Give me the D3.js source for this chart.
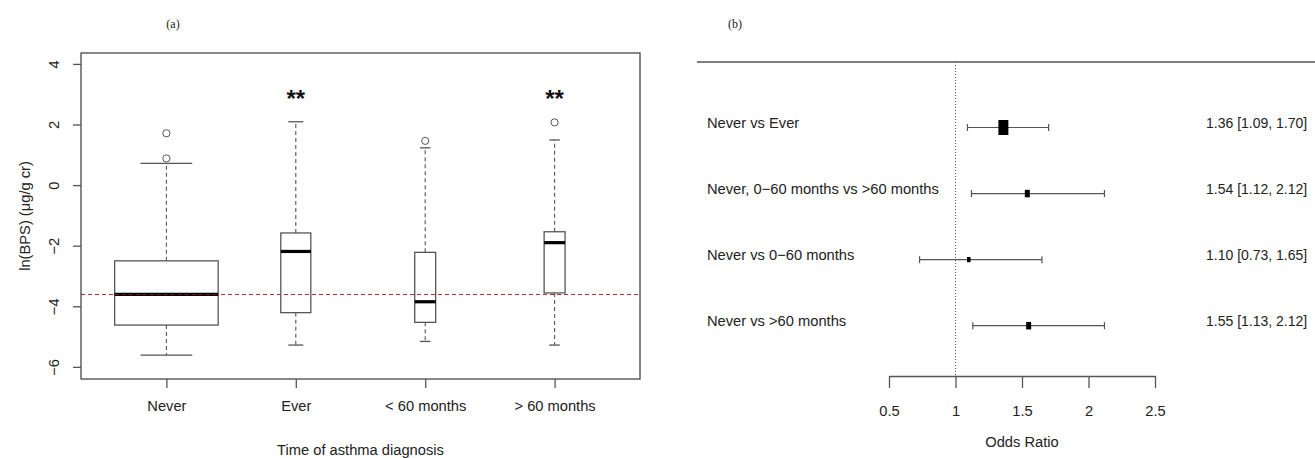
<!DOCTYPE html>
<html>
<head>
<meta charset="utf-8">
<script src="https://cdn.jsdelivr.net/npm/d3@7"></script>
<style>
  body { margin: 0; background: #fff; }
  svg text { font-family: "Liberation Sans", Arial, Helvetica, sans-serif; fill: #222; }
</style>
</head>
<body>
<div id="plot"></div>
<script>
// ---- panel (a) data: boxplot stats, ln(BPS)
const groups = ["Never", "Ever", "< 60 months", "> 60 months"];
const lowWhisk = [-5.61, -5.28, -5.16, -5.28];
const q1 = [-4.62, -4.21, -4.53, -3.56];
const median = [-3.61, -2.19, -3.85, -1.90];
const q3 = [-2.50, -1.58, -2.22, -1.54];
const highWhisk = [0.72, 2.09, 1.23, 1.49];
const outliers = [[1.71, 0.88], [], [1.46], [2.07]];
const relWidth = [0.80, 0.232, 0.162, 0.162];   // varwidth boxes
const signif = ["", "**", "", "**"];
const refLine = -3.61;
const yTicks = [-6, -4, -2, 0, 2, 4];

// ---- panel (b) data: odds ratios
const comparisons = ["Never vs Ever", "Never, 0\u221260 months vs >60 months",
                     "Never vs 0\u221260 months", "Never vs >60 months"];
const or = [1.36, 1.54, 1.10, 1.55];
const ciLow = [1.09, 1.12, 0.73, 1.13];
const ciHigh = [1.70, 2.12, 1.65, 2.12];
const weight = [1.0, 0.5, 0.35, 0.5];
const orTicks = [0.5, 1, 1.5, 2, 2.5];

const width = 1315, height = 458;
const fs = "14.7px";
const grey = "#555";

const svg = d3.select("#plot").append("svg")
  .attr("width", width).attr("height", height);

// ================= panel (a) =================
const x = d3.scaleLinear().domain([0.34, 4.66]).range([81, 640]);
const y = d3.scaleLinear().domain([-6.4, 4.36]).range([379, 53]);
const unit = x(2) - x(1);

const a = svg.append("g").attr("id", "panelA");

a.append("text").attr("x", 173).attr("y", 28)
  .attr("text-anchor", "middle")
  .style("font-family", "'Liberation Serif', 'Times New Roman', serif")
  .style("font-size", "12px").text("(a)");

// reference line (under boxes)
a.append("line")
  .attr("x1", x.range()[0]).attr("x2", x.range()[1])
  .attr("y1", y(refLine)).attr("y2", y(refLine))
  .attr("stroke", "#b5302a").attr("stroke-width", 1.1)
  .attr("stroke-dasharray", "4,3");

const bx = a.selectAll("g.box").data(groups).join("g").attr("class", "box");

bx.each(function(d, i) {
  const g = d3.select(this);
  const cx = x(i + 1);
  const w = relWidth[i] * unit;
  // whiskers
  [[q3[i], highWhisk[i]], [q1[i], lowWhisk[i]]].forEach(function(p) {
    g.append("line").attr("x1", cx).attr("x2", cx)
      .attr("y1", y(p[0])).attr("y2", y(p[1]))
      .attr("stroke", grey).attr("stroke-width", 1.1)
      .attr("stroke-dasharray", "4,3");
    g.append("line").attr("x1", cx - w / 4).attr("x2", cx + w / 4)
      .attr("y1", y(p[1])).attr("y2", y(p[1]))
      .attr("stroke", grey).attr("stroke-width", 1.3);
  });
  g.append("rect")
    .attr("x", cx - w / 2).attr("width", w)
    .attr("y", y(q3[i])).attr("height", y(q1[i]) - y(q3[i]))
    .attr("fill", "none").attr("stroke", grey).attr("stroke-width", 1.3);
  g.append("line").attr("x1", cx - w / 2).attr("x2", cx + w / 2)
    .attr("y1", y(median[i])).attr("y2", y(median[i]))
    .attr("stroke", "#000").attr("stroke-width", 3.2);
  g.selectAll("circle").data(outliers[i]).join("circle")
    .attr("cx", cx).attr("cy", v => y(v)).attr("r", 3.6)
    .attr("fill", "none").attr("stroke", grey).attr("stroke-width", 1);
  if (signif[i]) {
    g.append("text").attr("x", cx).attr("y", y(2.95) + 11)
      .attr("text-anchor", "middle")
      .style("font-size", "24px").style("font-weight", "bold")
      .style("fill", "#111").text(signif[i]);
  }
});

// redraw the reference line over the Never box as in the original
a.append("line")
  .attr("x1", x(1) - relWidth[0] * unit / 2).attr("x2", x(1) + relWidth[0] * unit / 2)
  .attr("y1", y(refLine)).attr("y2", y(refLine))
  .attr("stroke", "#7a1a16").attr("stroke-width", 1.1)
  .attr("stroke-dasharray", "4,3");

// frame
a.append("rect")
  .attr("x", x.range()[0]).attr("y", y.range()[1])
  .attr("width", x.range()[1] - x.range()[0])
  .attr("height", y.range()[0] - y.range()[1])
  .attr("fill", "none").attr("stroke", grey).attr("stroke-width", 1.4);

// y axis
const yAx = a.append("g").attr("transform", `translate(${x.range()[0]},0)`)
  .call(d3.axisLeft(y).tickValues(yTicks).tickSize(8).tickSizeOuter(0)
    .tickFormat(d => d < 0 ? "\u2212" + Math.abs(d) : d));
yAx.select(".domain").remove();
yAx.selectAll("line").attr("stroke", grey).attr("stroke-width", 1.3);
yAx.selectAll("text")
  .attr("x", 0).attr("dy", null)
  .attr("transform", "translate(-27,0) rotate(-90)")
  .attr("text-anchor", "middle").attr("dominant-baseline", "central")
  .style("font-size", fs).style("fill", "#222");

// x axis
const xAx = a.append("g").attr("transform", `translate(0,${y.range()[0]})`)
  .call(d3.axisBottom(x).tickValues([1, 2, 3, 4]).tickSize(9).tickSizeOuter(0)
    .tickFormat(d => groups[d - 1]));
xAx.select(".domain").remove();
xAx.selectAll("line").attr("stroke", grey).attr("stroke-width", 1.3);
xAx.selectAll("text").attr("y", 27).attr("dy", null)
  .attr("dominant-baseline", "central")
  .style("font-size", fs).style("fill", "#222");

a.append("text").attr("x", (x.range()[0] + x.range()[1]) / 2).attr("y", 450)
  .attr("text-anchor", "middle").attr("dominant-baseline", "central")
  .style("font-size", fs).text("Time of asthma diagnosis");

a.append("text")
  .attr("transform", `translate(25,${(y.range()[0] + y.range()[1]) / 2}) rotate(-90)`)
  .attr("text-anchor", "middle").attr("dominant-baseline", "central")
  .style("font-size", fs).text("ln(BPS) (\u03bcg/g cr)");

// ================= panel (b) =================
const xo = d3.scaleLinear().domain([0.5, 2.5]).range([889, 1155]);
const yo = d3.scaleLinear().domain([0, 3]).range([127.5, 325.7]);
const b = svg.append("g").attr("id", "panelB");

b.append("text").attr("x", 735).attr("y", 28)
  .attr("text-anchor", "middle")
  .style("font-family", "'Liberation Serif', 'Times New Roman', serif")
  .style("font-size", "12px").text("(b)");

b.append("line").attr("x1", 697).attr("x2", width).attr("y1", 62).attr("y2", 62)
  .attr("stroke", grey).attr("stroke-width", 1.6);

b.append("line").attr("x1", xo(1)).attr("x2", xo(1)).attr("y1", 62).attr("y2", 376)
  .attr("stroke", grey).attr("stroke-width", 1).attr("stroke-dasharray", "1,2");

const rows = b.selectAll("g.row").data(comparisons).join("g").attr("class", "row");
rows.append("text").attr("x", 707).attr("y", (d, i) => yo(i) - 5)
  .attr("dominant-baseline", "central").style("font-size", fs).text(d => d);
rows.append("line")
  .attr("x1", (d, i) => xo(ciLow[i])).attr("x2", (d, i) => xo(ciHigh[i]))
  .attr("y1", (d, i) => yo(i)).attr("y2", (d, i) => yo(i))
  .attr("stroke", grey).attr("stroke-width", 1.2);
[ciLow, ciHigh].forEach(function(arr) {
  rows.append("line")
    .attr("x1", (d, i) => xo(arr[i])).attr("x2", (d, i) => xo(arr[i]))
    .attr("y1", (d, i) => yo(i) - 3.5).attr("y2", (d, i) => yo(i) + 3.5)
    .attr("stroke", grey).attr("stroke-width", 1.2);
});
rows.append("rect")
  .attr("x", (d, i) => xo(or[i]) - 5 * weight[i])
  .attr("width", (d, i) => 10 * weight[i])
  .attr("y", (d, i) => yo(i) - 7.5 * weight[i])
  .attr("height", (d, i) => 15 * weight[i])
  .attr("fill", "#000");
// right-hand annotations: kept just inside the page edge
rows.append("text").attr("x", 1206).attr("y", (d, i) => yo(i) - 5)
  .attr("dominant-baseline", "central").style("font-size", "14px")
  .text((d, i) => `${or[i].toFixed(2)} [${ciLow[i].toFixed(2)}, ${ciHigh[i].toFixed(2)}]`);

const oAx = b.append("g").attr("transform", "translate(0,376)")
  .call(d3.axisBottom(xo).tickValues(orTicks).tickSize(12).tickSizeOuter(0)
    .tickFormat(d => d));
oAx.select(".domain").attr("stroke", grey).attr("stroke-width", 1.3);
oAx.selectAll("line").attr("stroke", grey).attr("stroke-width", 1.3);
oAx.selectAll("text").attr("y", 35).attr("dy", null)
  .attr("dominant-baseline", "central")
  .style("font-size", fs).style("fill", "#222");

b.append("text").attr("x", xo(1.5)).attr("y", 442)
  .attr("text-anchor", "middle").attr("dominant-baseline", "central")
  .style("font-size", fs).text("Odds Ratio");
</script>
</body>
</html>
